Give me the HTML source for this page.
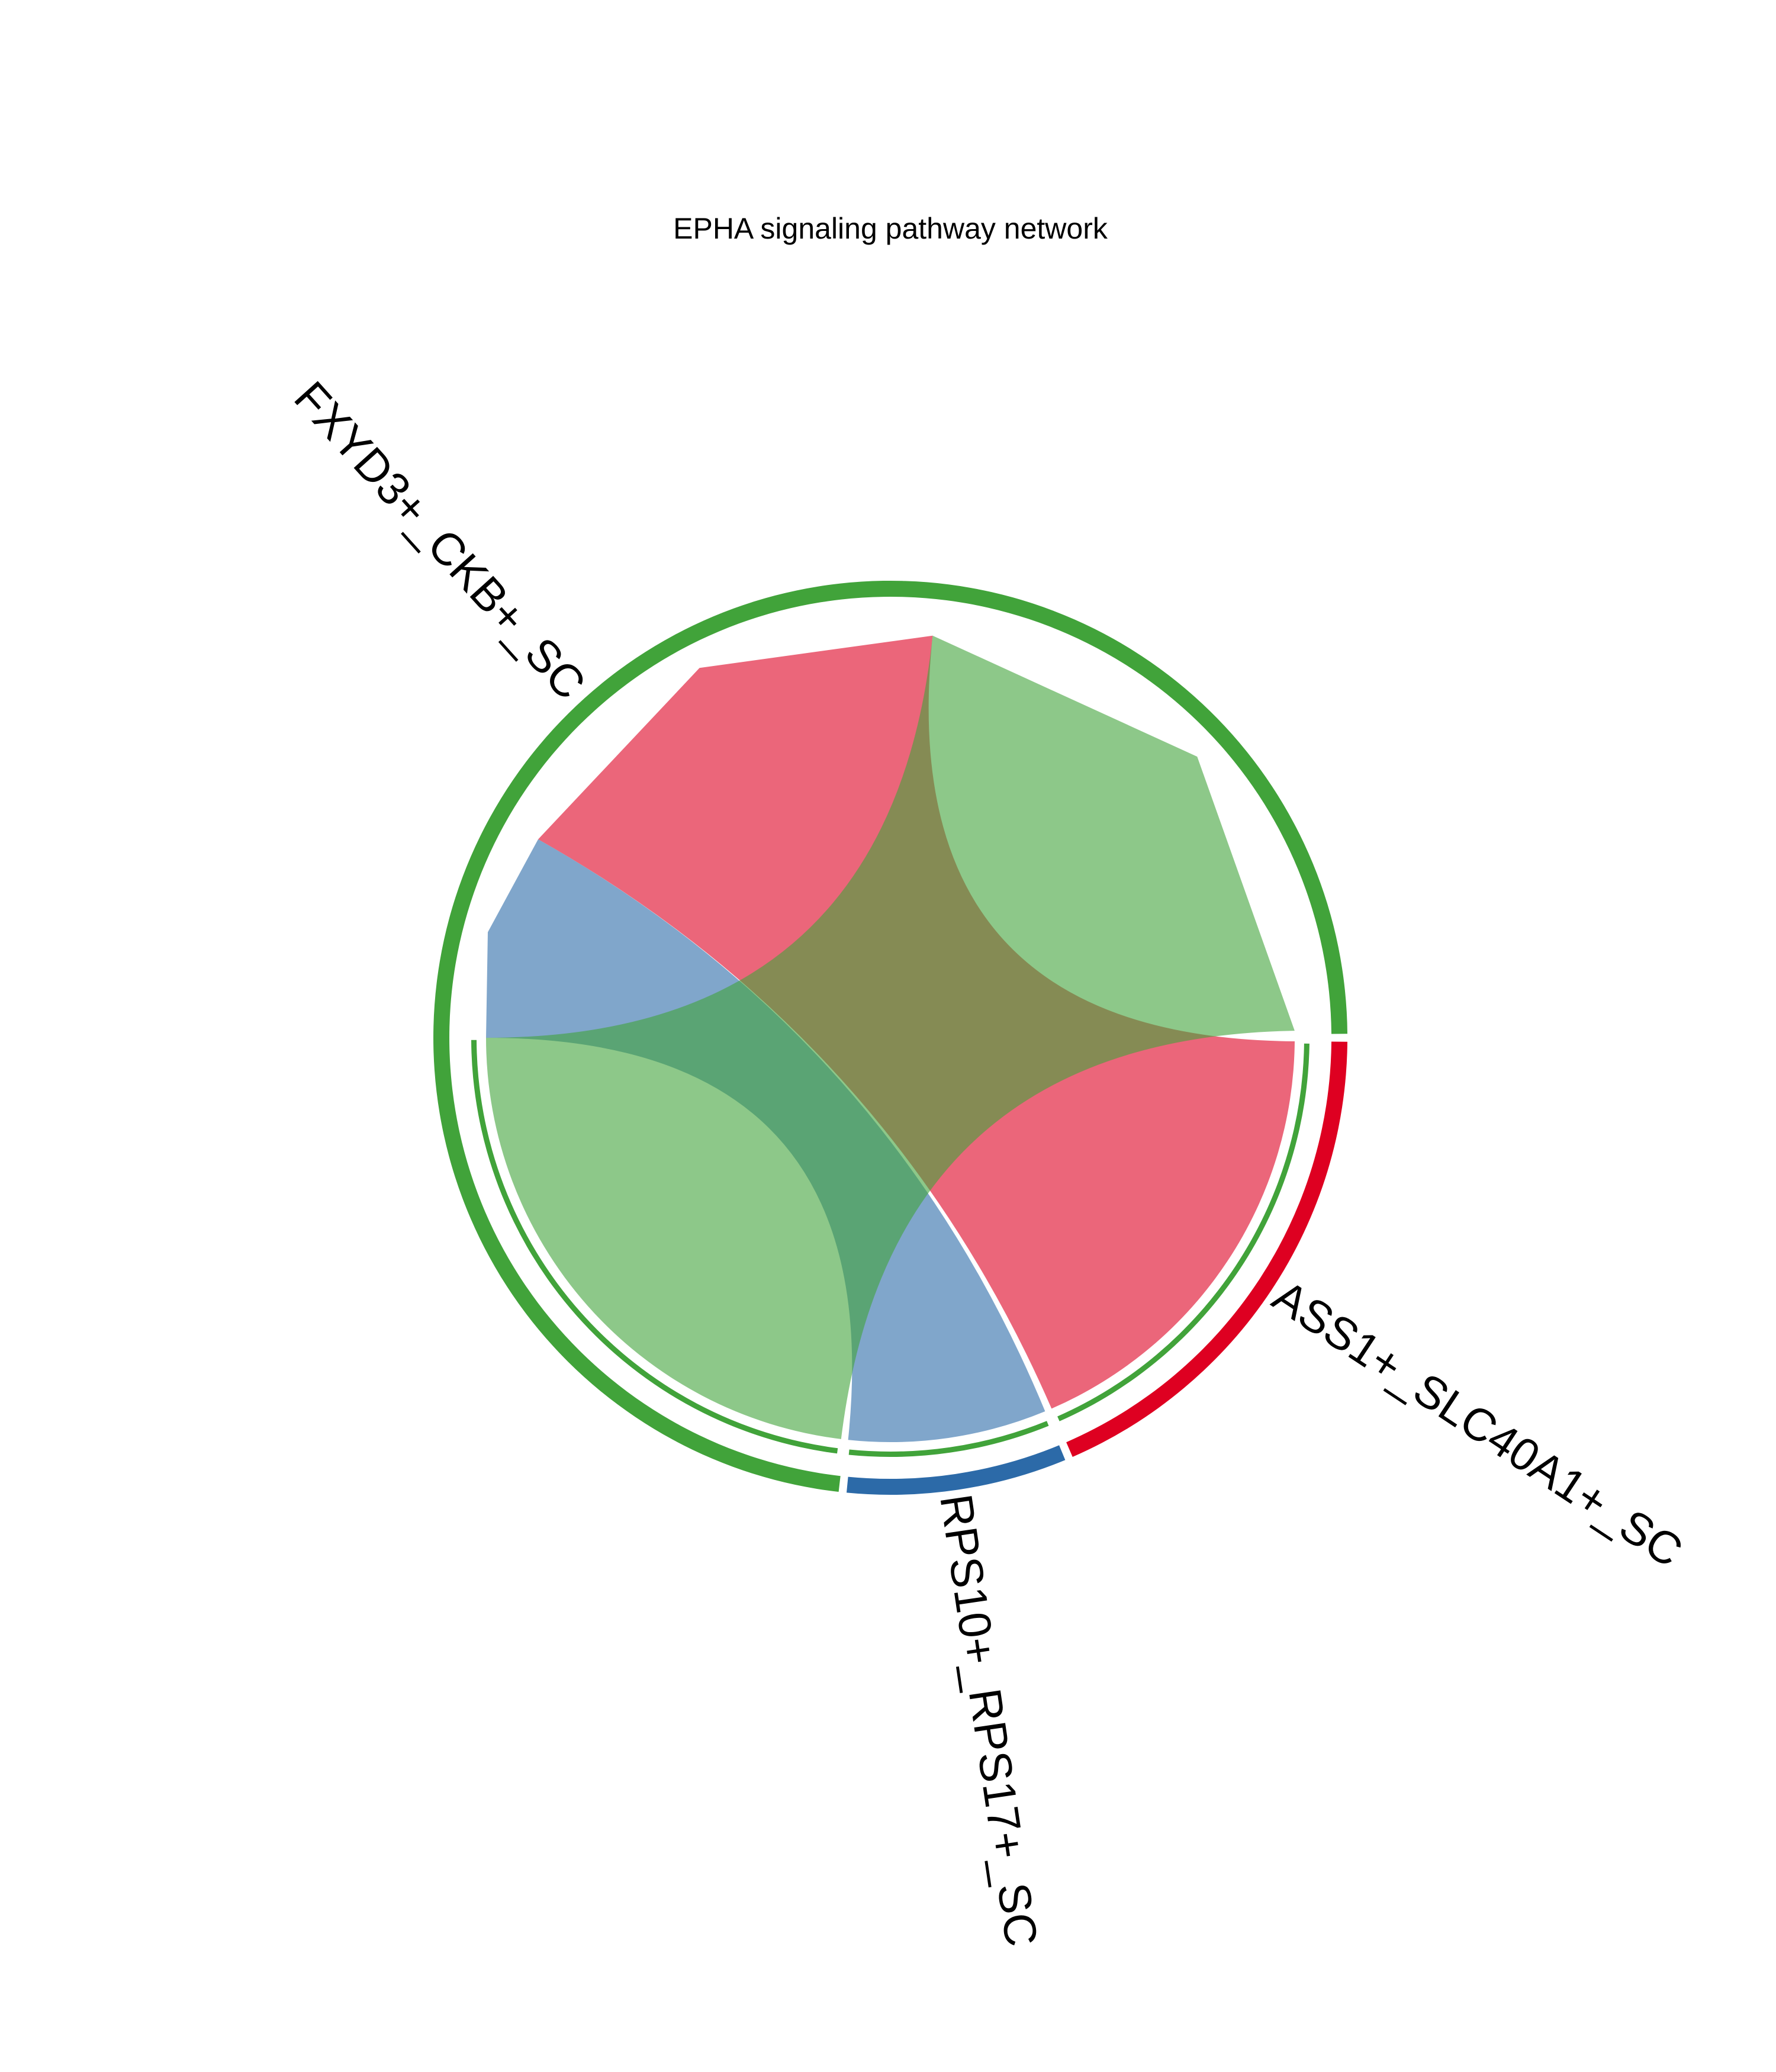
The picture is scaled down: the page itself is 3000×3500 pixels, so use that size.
<!DOCTYPE html>
<html><head><meta charset="utf-8"><style>
html,body{margin:0;padding:0;background:#fff;}
svg{display:block;font-family:"Liberation Sans",Arial,sans-serif;}
</style></head><body>
<svg id="chart" width="3000" height="3500" viewBox="0 0 3000 3500" xmlns="http://www.w3.org/2000/svg">
<text x="1504" y="403" font-size="50" text-anchor="middle">EPHA signaling pathway network</text>
<g id="chords"></g>
<g id="tracks"></g>
<text font-size="77" text-anchor="middle" dominant-baseline="central" transform="translate(743,913) rotate(48)">FXYD3+_CKB+_SC</text>
<text font-size="77" text-anchor="middle" dominant-baseline="central" transform="translate(2496,2405) rotate(33.5)">ASS1+_SLC40A1+_SC</text>
<text font-size="77" text-anchor="middle" dominant-baseline="central" transform="translate(1670,2906) rotate(81.6)">RPS10+_RPS17+_SC</text>
</svg>
<script>
const sectors = ["FXYD3+_CKB+_SC","RPS10+_RPS17+_SC","ASS1+_SLC40A1+_SC"];
const sectorColors = ["#41A33A","#2C6AA8","#DE0021"];
const sectorStart = [0.5, 264.5, 293.5];
const sectorEnd = [263.5, 292.5, 359.5];
const linkSource = [0, 0, 0];
const linkTarget = [2, 1, 0];
const linkSrcStart = [84, 150.6, 1];
const linkSrcEnd = [150.6, 180, 84];
const linkTgtStart = [293.5, 264, 180];
const linkTgtEnd = [359.5, 292.5, 263];

const NS = "http://www.w3.org/2000/svg";
const cx = 1504, cy = 1753;
const rChord = 683, rMid = 703, rThinIn = 699, rThinOut = 708, rOutIn = 745, rOutOut = 772;
function pt(r, a){ const t = a*Math.PI/180; return [cx + r*Math.cos(t), cy - r*Math.sin(t)]; }
function f(p){ return p[0].toFixed(1)+","+p[1].toFixed(1); }
function arcTo(r, a1, a2){
  const p = pt(r, a2); const large = Math.abs(a2-a1) > 180 ? 1 : 0; const sweep = a2 > a1 ? 0 : 1;
  return " A"+r+","+r+" 0 "+large+" "+sweep+" "+f(p);
}
function ring(r1, r2, a1, a2){
  return "M"+f(pt(r2,a1))+arcTo(r2,a1,a2)+" L"+f(pt(r1,a2))+arcTo(r1,a2,a1)+" Z";
}
const chords = document.getElementById("chords");
for (let i=0;i<linkSource.length;i++){
  const s1=linkSrcStart[i], s2=linkSrcEnd[i], t1=linkTgtStart[i], t2=linkTgtEnd[i];
  const sm=(s1+s2)/2;
  let d = "M"+f(pt(rChord,s1))+" L"+f(pt(rMid,sm))+" L"+f(pt(rChord,s2));
  d += " Q"+cx+","+cy+" "+f(pt(rChord,t1));
  d += arcTo(rChord,t1,t2);
  d += " Q"+cx+","+cy+" "+f(pt(rChord,s1))+" Z";
  const p = document.createElementNS(NS,"path");
  p.setAttribute("d", d);
  p.setAttribute("fill", sectorColors[linkTarget[i]]);
  p.setAttribute("fill-opacity", "0.6");
  
  
  chords.appendChild(p);
  const tr = document.createElementNS(NS,"path");
  tr.setAttribute("d", ring(rThinIn, rThinOut, t1+0.3, t2-0.3));
  tr.setAttribute("fill", sectorColors[linkSource[i]]);
  
  
  document.getElementById("tracks").appendChild(tr);
}
for (let i=0;i<sectors.length;i++){
  const p = document.createElementNS(NS,"path");
  p.setAttribute("d", ring(rOutIn, rOutOut, sectorStart[i], sectorEnd[i]));
  p.setAttribute("fill", sectorColors[i]);
  
  
  document.getElementById("tracks").appendChild(p);
}
</script>
</body></html>
